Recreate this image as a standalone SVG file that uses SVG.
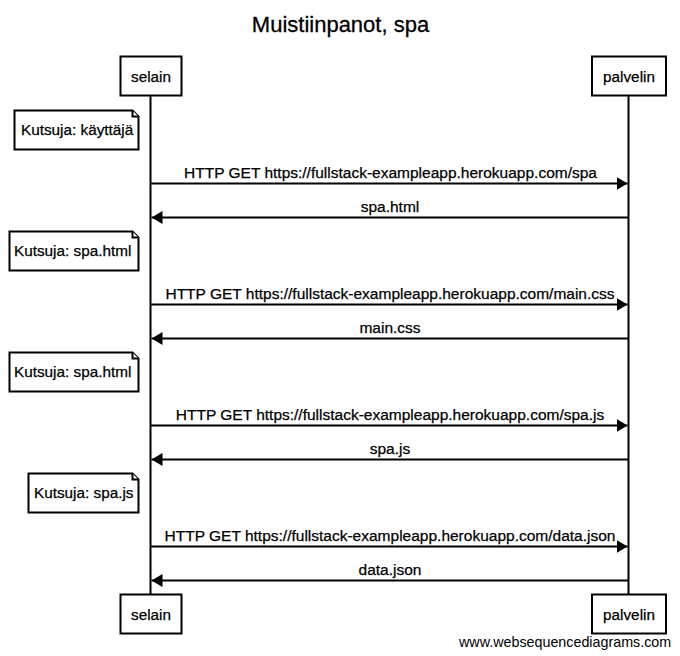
<svg xmlns="http://www.w3.org/2000/svg" width="680" height="656" viewBox="0 0 680 656">
<defs>
<style>
text{font-family:"Liberation Sans",Arial,sans-serif;fill:#000}
.title{font-size:22px;text-anchor:middle;stroke:#000;stroke-width:0.3}
.p{font-size:15.3px;text-anchor:middle;stroke:#000;stroke-width:0.25}
.m{font-size:15.5px;text-anchor:middle;stroke:#000;stroke-width:0.25}
.n{font-size:15.3px;stroke:#000;stroke-width:0.25}
.wm{font-size:14.3px}
.box{fill:#fff;stroke:#000;stroke-width:2}
.life{stroke:#000;stroke-width:2}
.msg{stroke:#000;stroke-width:2;fill:none}
.note{fill:#fff;stroke:#000;stroke-width:2}
</style>
<marker id="ah" viewBox="0 0 11 13" refX="11" refY="6.5" markerWidth="11" markerHeight="13" markerUnits="userSpaceOnUse" orient="auto">
<path d="M0,0 L11,6.5 L0,13 Z" fill="#000"/>
</marker>
</defs>
<rect width="680" height="656" fill="#fff"/>
<text class="title" x="340.5" y="32">Muistiinpanot, spa</text>

<g id="lifelines">
<line class="life" x1="150.5" y1="95" x2="150.5" y2="594"/>
<line class="life" x1="628.5" y1="95" x2="628.5" y2="594"/>
</g>

<g id="selain">
<rect class="box" x="120.5" y="56.5" width="61" height="39"/>
<text class="p" x="151" y="82">selain</text>
</g>
<g id="palvelin">
<rect class="box" x="592" y="56.5" width="74" height="39"/>
<text class="p" x="629" y="82">palvelin</text>
</g>
<g id="selain-bottom">
<rect class="box" x="120.5" y="594.5" width="61" height="39"/>
<text class="p" x="151" y="620">selain</text>
</g>
<g id="palvelin-bottom">
<rect class="box" x="592" y="594.5" width="74" height="39"/>
<text class="p" x="629" y="620">palvelin</text>
</g>

<g id="note1">
<path class="note" d="M14.5,110.5 H132.5 L138.5,116.5 V149.5 H14.5 Z"/>
<path class="note" d="M132.5,110.5 V116.5 H138.5" fill="none"/>
<text class="n" x="21" y="135">Kutsuja: käyttäjä</text>
</g>
<g id="note2">
<path class="note" d="M9.5,231.5 H132.5 L138.5,237.5 V270.5 H9.5 Z"/>
<path class="note" d="M132.5,231.5 V237.5 H138.5" fill="none"/>
<text class="n" x="14" y="256">Kutsuja: spa.html</text>
</g>
<g id="note3">
<path class="note" d="M9.5,352.5 H132.5 L138.5,358.5 V391.5 H9.5 Z"/>
<path class="note" d="M132.5,352.5 V358.5 H138.5" fill="none"/>
<text class="n" x="14" y="377">Kutsuja: spa.html</text>
</g>
<g id="note4">
<path class="note" d="M28.5,473.5 H132.5 L138.5,479.5 V512.5 H28.5 Z"/>
<path class="note" d="M132.5,473.5 V479.5 H138.5" fill="none"/>
<text class="n" x="34" y="498">Kutsuja: spa.js</text>
</g>

<g id="connectors">
<line class="msg" x1="151" y1="183.5" x2="627.5" y2="183.5" marker-end="url(#ah)"/>
<text class="m" x="390.5" y="178">HTTP GET https://fullstack-exampleapp.herokuapp.com/spa</text>
<line class="msg" x1="628" y1="217.5" x2="151.5" y2="217.5" marker-end="url(#ah)"/>
<text class="m" x="390" y="212">spa.html</text>
<line class="msg" x1="151" y1="304.5" x2="627.5" y2="304.5" marker-end="url(#ah)"/>
<text class="m" x="390" y="299">HTTP GET https://fullstack-exampleapp.herokuapp.com/main.css</text>
<line class="msg" x1="628" y1="338.5" x2="151.5" y2="338.5" marker-end="url(#ah)"/>
<text class="m" x="390" y="333">main.css</text>
<line class="msg" x1="151" y1="425.5" x2="627.5" y2="425.5" marker-end="url(#ah)"/>
<text class="m" x="390" y="420">HTTP GET https://fullstack-exampleapp.herokuapp.com/spa.js</text>
<line class="msg" x1="628" y1="459.5" x2="151.5" y2="459.5" marker-end="url(#ah)"/>
<text class="m" x="390" y="454">spa.js</text>
<line class="msg" x1="151" y1="546.5" x2="627.5" y2="546.5" marker-end="url(#ah)"/>
<text class="m" x="390" y="541">HTTP GET https://fullstack-exampleapp.herokuapp.com/data.json</text>
<line class="msg" x1="628" y1="580.5" x2="151.5" y2="580.5" marker-end="url(#ah)"/>
<text class="m" x="390" y="575">data.json</text>
</g>

<text class="wm" x="459" y="647">www.websequencediagrams.com</text>
</svg>
